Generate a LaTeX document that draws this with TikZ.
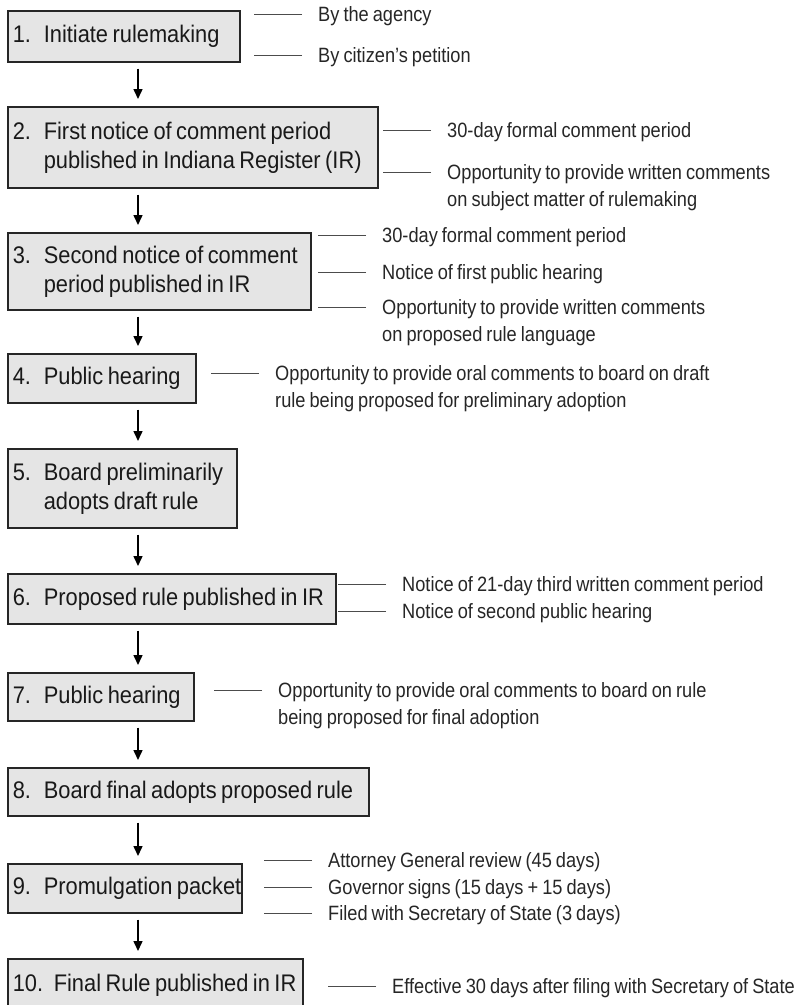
\documentclass[tikz,border=0pt]{standalone}
\usepackage{fontspec}
\setmainfont{Liberation Sans}[FakeStretch=0.88,WordSpace=0.8]
\newfontfamily\boxfont{Liberation Sans}[FakeStretch=0.91]
\usetikzlibrary{arrows.meta,shadows}
\tikzset{
  stepbox/.style={draw=black!85,line width=1.6pt,fill=black!10,anchor=north west,
    inner xsep=5pt,inner ysep=0pt,align=left,text=black!90,
    font=\boxfont\fontsize{24}{29}\selectfont,
    drop shadow={shadow xshift=1pt,shadow yshift=-1pt,fill=black!85,opacity=1}},
  note/.style={anchor=base west,inner sep=0pt,text=black!85,font=\fontsize{20.7}{27}\selectfont},
  lead/.style={draw=black!70,line width=0.8pt},
  arr/.style={line width=1.5pt,-{Triangle[width=9pt,length=10pt]},shorten <=6pt,shorten >=7pt}
}
\newcommand{\nr}[3][31pt]{\mbox{\spaceskip=4.5pt\relax\makebox[#1][l]{#2}#3}}
\newcommand{\twolines}[2]{\begin{tabular}[t]{@{}l@{}}#1\\#2\end{tabular}}
\begin{document}
\begin{tikzpicture}[x=1pt,y=-1pt]
\useasboundingbox (0,0) rectangle (797,1005);
\node[stepbox,minimum width=232pt,minimum height=51pt,text width=222pt] (b1) at (7,10) {\nr{1.}{Initiate rulemaking}};
\node[stepbox,minimum width=370pt,minimum height=81pt,text width=360pt] (b2) at (7,106) {\nr{2.}{First notice of comment period}\\\nr{}{published in Indiana Register (IR)}};
\node[stepbox,minimum width=303pt,minimum height=77pt,text width=293pt] (b3) at (7,232) {\nr{3.}{Second notice of comment}\\\nr{}{period published in IR}};
\node[stepbox,minimum width=188pt,minimum height=49pt,text width=178pt] (b4) at (7,353) {\nr{4.}{Public hearing}};
\node[stepbox,minimum width=229pt,minimum height=79pt,text width=219pt] (b5) at (7,448) {\nr{5.}{Board preliminarily}\\\nr{}{adopts draft rule}};
\node[stepbox,minimum width=328pt,minimum height=50pt,text width=318pt] (b6) at (7,573) {\nr{6.}{Proposed rule published in IR}};
\node[stepbox,minimum width=186pt,minimum height=48pt,text width=176pt] (b7) at (7,672) {\nr{7.}{Public hearing}};
\node[stepbox,minimum width=361pt,minimum height=48pt,text width=351pt] (b8) at (7,767) {\nr{8.}{Board final adopts proposed rule}};
\node[stepbox,minimum width=234pt,minimum height=49pt,text width=224pt] (b9) at (7,863) {\nr{9.}{Promulgation packet}};
\node[stepbox,minimum width=295pt,minimum height=52pt,text width=285pt] (b10) at (7,958) {\nr[41pt]{10.}{Final Rule published in IR}};

\coordinate (ax) at (138,0);
\foreach \a/\b in {b1/b2,b2/b3,b3/b4,b4/b5,b5/b6,b6/b7,b7/b8,b8/b9,b9/b10}
  \draw[arr] (\a.south -| ax) -- (\b.north -| ax);

\node[note] (n1a) at (318,21) {By the agency};
\node[note] (n1b) at (318,62) {By citizen’s petition};
\node[note] (n2a) at (447,137) {30-day formal comment period};
\node[note] (n2b) at (447,179) {\twolines{Opportunity to provide written comments}{on subject matter of rulemaking}};
\node[note] (n3a) at (382,242) {30-day formal comment period};
\node[note] (n3b) at (382,279) {Notice of first public hearing};
\node[note] (n3c) at (382,314) {\twolines{Opportunity to provide written comments}{on proposed rule language}};
\node[note] (n4) at (275,380) {\twolines{Opportunity to provide oral comments to board on draft}{rule being proposed for preliminary adoption}};
\node[note] (n6a) at (402,591) {Notice of 21-day third written comment period};
\node[note] (n6b) at (402,618) {Notice of second public hearing};
\node[note] (n7) at (278,697) {\twolines{Opportunity to provide oral comments to board on rule}{being proposed for final adoption}};
\node[note] (n9a) at (328,867) {Attorney General review (45 days)};
\node[note] (n9b) at (328,894) {Governor signs (15 days + 15 days)};
\node[note] (n9c) at (328,920) {Filed with Secretary of State (3 days)};
\node[note] (n10) at (392,993) {Effective 30 days after filing with Secretary of State};

\foreach \n in {n1a,n1b,n2a,n2b,n3a,n3b,n3c,n4,n6a,n6b,n7,n9a,n9b,n9c,n10}
  \draw[lead] (\n.base west) ++(-16,-7) -- ++(-48,0);
\end{tikzpicture}
\end{document}
